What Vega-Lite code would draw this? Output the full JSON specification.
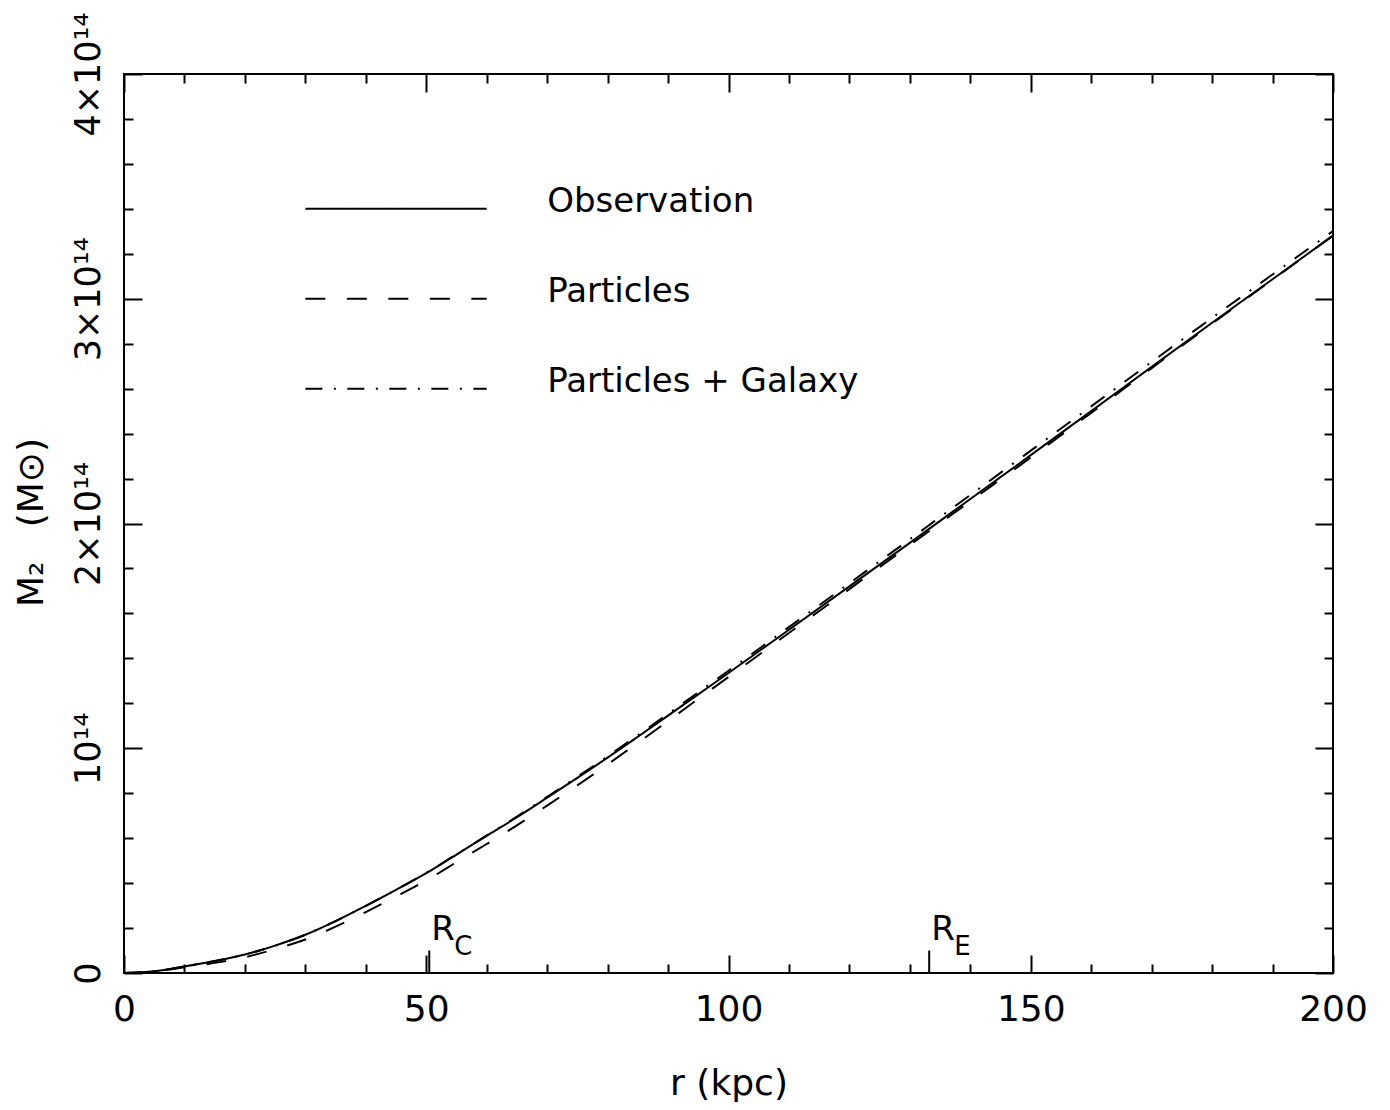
{
  "$schema": "https://vega.github.io/schema/vega-lite/v6.json",
  "width": 1209,
  "height": 899,
  "autosize": {"type": "none"},
  "padding": {"left": 124, "top": 74, "right": 57, "bottom": 137},
  "background": "white",
  "config": {
    "view": {"stroke": "black", "strokeWidth": 2},
    "font": "DejaVu Sans",
    "axis": {
      "grid": false,
      "domain": false,
      "tickColor": "black",
      "tickWidth": 2,
      "labelColor": "black",
      "titleColor": "black",
      "labelFont": "DejaVu Sans",
      "titleFont": "DejaVu Sans",
      "titleFontWeight": "normal",
      "labelFlush": false,
      "labelOverlap": false,
      "labelBound": false
    }
  },
  "datasets": {
    "curves": [
      {"series": "Observation", "r": 0, "M": 0},
      {"series": "Observation", "r": 5, "M": 0.008e14},
      {"series": "Observation", "r": 10, "M": 0.029e14},
      {"series": "Observation", "r": 15, "M": 0.053e14},
      {"series": "Observation", "r": 20, "M": 0.082e14},
      {"series": "Observation", "r": 25, "M": 0.122e14},
      {"series": "Observation", "r": 30, "M": 0.170e14},
      {"series": "Observation", "r": 35, "M": 0.231e14},
      {"series": "Observation", "r": 40, "M": 0.299e14},
      {"series": "Observation", "r": 45, "M": 0.370e14},
      {"series": "Observation", "r": 50, "M": 0.444e14},
      {"series": "Observation", "r": 55, "M": 0.527e14},
      {"series": "Observation", "r": 60, "M": 0.610e14},
      {"series": "Observation", "r": 65, "M": 0.693e14},
      {"series": "Observation", "r": 70, "M": 0.780e14},
      {"series": "Observation", "r": 75, "M": 0.868e14},
      {"series": "Observation", "r": 80, "M": 0.958e14},
      {"series": "Observation", "r": 85, "M": 1.051e14},
      {"series": "Observation", "r": 90, "M": 1.145e14},
      {"series": "Observation", "r": 95, "M": 1.240e14},
      {"series": "Observation", "r": 100, "M": 1.335e14},
      {"series": "Observation", "r": 110, "M": 1.527e14},
      {"series": "Observation", "r": 120, "M": 1.720e14},
      {"series": "Observation", "r": 130, "M": 1.914e14},
      {"series": "Observation", "r": 140, "M": 2.109e14},
      {"series": "Observation", "r": 150, "M": 2.304e14},
      {"series": "Observation", "r": 160, "M": 2.500e14},
      {"series": "Observation", "r": 170, "M": 2.697e14},
      {"series": "Observation", "r": 180, "M": 2.893e14},
      {"series": "Observation", "r": 190, "M": 3.087e14},
      {"series": "Observation", "r": 200, "M": 3.281e14},
      {"series": "Particles", "r": 0, "M": 0},
      {"series": "Particles", "r": 5, "M": 0.007e14},
      {"series": "Particles", "r": 10, "M": 0.025e14},
      {"series": "Particles", "r": 15, "M": 0.045e14},
      {"series": "Particles", "r": 20, "M": 0.070e14},
      {"series": "Particles", "r": 25, "M": 0.106e14},
      {"series": "Particles", "r": 30, "M": 0.149e14},
      {"series": "Particles", "r": 35, "M": 0.206e14},
      {"series": "Particles", "r": 40, "M": 0.271e14},
      {"series": "Particles", "r": 45, "M": 0.340e14},
      {"series": "Particles", "r": 50, "M": 0.412e14},
      {"series": "Particles", "r": 55, "M": 0.493e14},
      {"series": "Particles", "r": 60, "M": 0.574e14},
      {"series": "Particles", "r": 65, "M": 0.657e14},
      {"series": "Particles", "r": 70, "M": 0.745e14},
      {"series": "Particles", "r": 75, "M": 0.835e14},
      {"series": "Particles", "r": 80, "M": 0.928e14},
      {"series": "Particles", "r": 85, "M": 1.024e14},
      {"series": "Particles", "r": 90, "M": 1.121e14},
      {"series": "Particles", "r": 95, "M": 1.220e14},
      {"series": "Particles", "r": 100, "M": 1.317e14},
      {"series": "Particles", "r": 110, "M": 1.513e14},
      {"series": "Particles", "r": 120, "M": 1.708e14},
      {"series": "Particles", "r": 130, "M": 1.904e14},
      {"series": "Particles", "r": 140, "M": 2.099e14},
      {"series": "Particles", "r": 150, "M": 2.294e14},
      {"series": "Particles", "r": 160, "M": 2.492e14},
      {"series": "Particles", "r": 170, "M": 2.691e14},
      {"series": "Particles", "r": 180, "M": 2.889e14},
      {"series": "Particles", "r": 190, "M": 3.085e14},
      {"series": "Particles", "r": 200, "M": 3.281e14},
      {"series": "Particles + Galaxy", "r": 0, "M": 0},
      {"series": "Particles + Galaxy", "r": 5, "M": 0.008e14},
      {"series": "Particles + Galaxy", "r": 10, "M": 0.029e14},
      {"series": "Particles + Galaxy", "r": 15, "M": 0.053e14},
      {"series": "Particles + Galaxy", "r": 20, "M": 0.082e14},
      {"series": "Particles + Galaxy", "r": 25, "M": 0.122e14},
      {"series": "Particles + Galaxy", "r": 30, "M": 0.170e14},
      {"series": "Particles + Galaxy", "r": 35, "M": 0.231e14},
      {"series": "Particles + Galaxy", "r": 40, "M": 0.299e14},
      {"series": "Particles + Galaxy", "r": 45, "M": 0.370e14},
      {"series": "Particles + Galaxy", "r": 50, "M": 0.445e14},
      {"series": "Particles + Galaxy", "r": 55, "M": 0.528e14},
      {"series": "Particles + Galaxy", "r": 60, "M": 0.612e14},
      {"series": "Particles + Galaxy", "r": 65, "M": 0.696e14},
      {"series": "Particles + Galaxy", "r": 70, "M": 0.784e14},
      {"series": "Particles + Galaxy", "r": 75, "M": 0.873e14},
      {"series": "Particles + Galaxy", "r": 80, "M": 0.964e14},
      {"series": "Particles + Galaxy", "r": 85, "M": 1.058e14},
      {"series": "Particles + Galaxy", "r": 90, "M": 1.153e14},
      {"series": "Particles + Galaxy", "r": 95, "M": 1.249e14},
      {"series": "Particles + Galaxy", "r": 100, "M": 1.345e14},
      {"series": "Particles + Galaxy", "r": 110, "M": 1.539e14},
      {"series": "Particles + Galaxy", "r": 120, "M": 1.734e14},
      {"series": "Particles + Galaxy", "r": 130, "M": 1.930e14},
      {"series": "Particles + Galaxy", "r": 140, "M": 2.127e14},
      {"series": "Particles + Galaxy", "r": 150, "M": 2.324e14},
      {"series": "Particles + Galaxy", "r": 160, "M": 2.521e14},
      {"series": "Particles + Galaxy", "r": 170, "M": 2.719e14},
      {"series": "Particles + Galaxy", "r": 180, "M": 2.915e14},
      {"series": "Particles + Galaxy", "r": 190, "M": 3.108e14},
      {"series": "Particles + Galaxy", "r": 200, "M": 3.301e14}
    ],
    "legend": [
      {"label": "Observation", "x1": 30, "x2": 60, "tx": 70, "y": 3.4e14},
      {"label": "Particles", "x1": 30, "x2": 60, "tx": 70, "y": 3.0e14},
      {"label": "Particles + Galaxy", "x1": 30, "x2": 60, "tx": 70, "y": 2.6e14}
    ],
    "markers": [
      {"name": "R", "sub": "C", "r": 50.5, "base": 0, "top": 0.1e14},
      {"name": "R", "sub": "E", "r": 133.2, "base": 0, "top": 0.1e14}
    ]
  },
  "resolve": {"axis": {"x": "independent", "y": "independent"}},
  "layer": [
    {
      "data": {"name": "curves"},
      "transform": [{"filter": "datum.series == 'Observation'"}],
      "mark": {"type": "line", "color": "black", "strokeWidth": 2, "interpolate": "monotone"},
      "encoding": {
        "x": {"field": "r", "type": "quantitative",
          "scale": {"domain": [0, 200], "nice": false, "zero": false},
          "axis": {"orient": "bottom", "values": [0, 50, 100, 150, 200], "ticks": false, "format": "d",
            "labelFontSize": 36, "labelPadding": 47, "labelBaseline": "alphabetic", "labelAngle": 0,
            "title": "r (kpc)", "titleFontSize": 36, "titleX": 604.5, "titleY": 121,
            "titleAlign": "center", "titleBaseline": "alphabetic", "titleAnchor": null}},
        "y": {"field": "M", "type": "quantitative",
          "scale": {"domain": [0, 4e14], "nice": false, "zero": false},
          "axis": {"orient": "left", "values": [0, 1e14, 2e14, 3e14, 4e14], "ticks": false,
            "labelExpr": "datum.value == 0 ? '0' : (round(datum.value / 1e14) == 1 ? '10¹⁴' : round(datum.value / 1e14) + '×10¹⁴')",
            "labelFontSize": 35, "labelAngle": 270, "labelAlign": "center", "labelBaseline": "alphabetic", "labelPadding": 25,
            "title": "M₂\u00a0\u00a0\u00a0(M⊙)", "titleFontSize": 36, "titleAngle": 270, "titleX": -82, "titleY": 448,
            "titleAlign": "center", "titleBaseline": "alphabetic", "titleLimit": 400}}
      }
    },
    {
      "data": {"name": "curves"},
      "transform": [{"filter": "datum.series == 'Particles'"}],
      "mark": {"type": "line", "color": "black", "strokeWidth": 2, "strokeDash": [20, 21.5], "interpolate": "monotone"},
      "encoding": {
        "x": {"field": "r", "type": "quantitative",
          "scale": {"domain": [0, 200], "nice": false, "zero": false},
          "axis": {"orient": "bottom", "values": [0, 50, 100, 150, 200], "labels": false, "tickSize": -18, "title": null}},
        "y": {"field": "M", "type": "quantitative",
          "scale": {"domain": [0, 4e14], "nice": false, "zero": false},
          "axis": {"orient": "left", "values": [0, 1e14, 2e14, 3e14, 4e14], "labels": false, "tickSize": -18, "title": null}}
      }
    },
    {
      "data": {"name": "curves"},
      "transform": [{"filter": "datum.series == 'Particles + Galaxy'"}],
      "mark": {"type": "line", "color": "black", "strokeWidth": 2, "strokeDash": [17, 11.5, 2, 11.5], "interpolate": "monotone"},
      "encoding": {
        "x": {"field": "r", "type": "quantitative",
          "scale": {"domain": [0, 200], "nice": false, "zero": false},
          "axis": {"orient": "bottom", "values": [10, 20, 30, 40, 60, 70, 80, 90, 110, 120, 130, 140, 160, 170, 180, 190], "labels": false, "tickSize": -9, "title": null}},
        "y": {"field": "M", "type": "quantitative",
          "scale": {"domain": [0, 4e14], "nice": false, "zero": false},
          "axis": {"orient": "left", "values": [0.2e14, 0.4e14, 0.6e14, 0.8e14, 1.2e14, 1.4e14, 1.6e14, 1.8e14, 2.2e14, 2.4e14, 2.6e14, 2.8e14, 3.2e14, 3.4e14, 3.6e14, 3.8e14], "labels": false, "tickSize": -9, "title": null}}
      }
    },
    {
      "data": {"name": "legend"},
      "mark": {"type": "rule", "color": "black", "strokeWidth": 2},
      "encoding": {
        "x": {"field": "x1", "type": "quantitative",
          "scale": {"domain": [0, 200], "nice": false, "zero": false},
          "axis": {"orient": "top", "values": [0, 50, 100, 150, 200], "labels": false, "tickSize": -18, "title": null}},
        "x2": {"field": "x2"},
        "y": {"field": "y", "type": "quantitative",
          "scale": {"domain": [0, 4e14], "nice": false, "zero": false},
          "axis": {"orient": "right", "values": [0, 1e14, 2e14, 3e14, 4e14], "labels": false, "tickSize": -18, "title": null}},
        "strokeDash": {"field": "label", "type": "nominal",
          "scale": {"domain": ["Observation", "Particles", "Particles + Galaxy"], "range": [[1, 0], [20, 21.5], [17, 11.5, 2, 11.5]]},
          "legend": null}
      }
    },
    {
      "data": {"name": "legend"},
      "mark": {"type": "text", "color": "black", "fontSize": 34, "align": "left", "baseline": "alphabetic", "dy": 3, "font": "DejaVu Sans"},
      "encoding": {
        "x": {"field": "tx", "type": "quantitative",
          "scale": {"domain": [0, 200], "nice": false, "zero": false},
          "axis": {"orient": "top", "values": [10, 20, 30, 40, 60, 70, 80, 90, 110, 120, 130, 140, 160, 170, 180, 190], "labels": false, "tickSize": -9, "title": null}},
        "y": {"field": "y", "type": "quantitative",
          "scale": {"domain": [0, 4e14], "nice": false, "zero": false},
          "axis": {"orient": "right", "values": [0.2e14, 0.4e14, 0.6e14, 0.8e14, 1.2e14, 1.4e14, 1.6e14, 1.8e14, 2.2e14, 2.4e14, 2.6e14, 2.8e14, 3.2e14, 3.4e14, 3.6e14, 3.8e14], "labels": false, "tickSize": -9, "title": null}},
        "text": {"field": "label"}
      }
    },
    {
      "data": {"name": "markers"},
      "mark": {"type": "rule", "color": "black", "strokeWidth": 2},
      "encoding": {
        "x": {"field": "r", "type": "quantitative", "scale": {"domain": [0, 200], "nice": false, "zero": false}, "axis": null},
        "y": {"field": "base", "type": "quantitative", "scale": {"domain": [0, 4e14], "nice": false, "zero": false}, "axis": null},
        "y2": {"field": "top"}
      }
    },
    {
      "data": {"name": "markers"},
      "mark": {"type": "text", "color": "black", "fontSize": 34, "align": "left", "baseline": "alphabetic", "dx": 2, "dy": -11, "font": "DejaVu Sans"},
      "encoding": {
        "x": {"field": "r", "type": "quantitative", "scale": {"domain": [0, 200], "nice": false, "zero": false}, "axis": null},
        "y": {"field": "top", "type": "quantitative", "scale": {"domain": [0, 4e14], "nice": false, "zero": false}, "axis": null},
        "text": {"field": "name"}
      }
    },
    {
      "data": {"name": "markers"},
      "mark": {"type": "text", "color": "black", "fontSize": 26, "align": "left", "baseline": "alphabetic", "dx": 25, "dy": 4, "font": "DejaVu Sans"},
      "encoding": {
        "x": {"field": "r", "type": "quantitative", "scale": {"domain": [0, 200], "nice": false, "zero": false}, "axis": null},
        "y": {"field": "top", "type": "quantitative", "scale": {"domain": [0, 4e14], "nice": false, "zero": false}, "axis": null},
        "text": {"field": "sub"}
      }
    }
  ]
}
